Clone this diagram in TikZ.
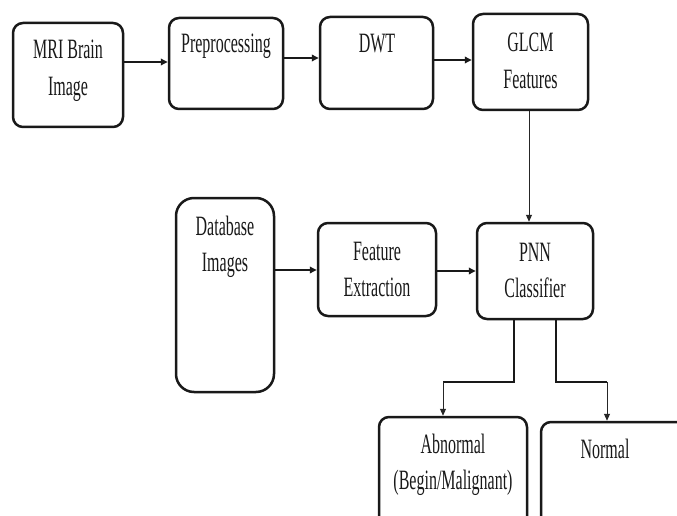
\documentclass[tikz,border=0pt]{standalone}
\usepackage{fontspec}
\setmainfont{Liberation Serif}
\usetikzlibrary{arrows.meta}
\newcommand{\tall}[1]{\scalebox{1}[1.75]{#1}}
\newcommand{\twoline}[2]{\tall{\begin{tabular}[t]{@{}c@{}}#1\\[0.5pt]#2\end{tabular}}}
\tikzset{
  box/.style={draw=black!90, line width=2.5pt, rounded corners=10pt, inner sep=0pt},
  txt/.style={inner sep=0pt, anchor=base, font=\fontsize{16}{20.5}\selectfont, text=black!90},
  arr/.style={draw=black!90, line width=2.2pt, -{Triangle[length=7pt,width=6.5pt]}},
  thinarr/.style={draw=black!85, line width=1pt, -{Triangle[length=7pt,width=6pt]}},
  seg/.style={draw=black!90, line width=2pt}
}
\begin{document}
\begin{tikzpicture}[x=1pt,y=-1pt]
\path[use as bounding box, clip] (0,0) rectangle (677,516);
\fill[white] (0,0) rectangle (677,516);
% boxes
\node[box, minimum width=110pt, minimum height=104pt] (mri) at (68,75) {};
\node[box, minimum width=114pt, minimum height=91pt] (pre) at (226,63.5) {};
\node[box, minimum width=113pt, minimum height=92pt] (dwt) at (376.5,63) {};
\node[box, minimum width=115pt, minimum height=96pt] (glcm) at (530.5,62) {};
\node[box, rounded corners=18pt, minimum width=98pt, minimum height=194pt] (db) at (225,295) {};
\node[box, minimum width=118pt, minimum height=93pt] (fe) at (377,269.5) {};
\node[box, minimum width=116pt, minimum height=96pt] (pnn) at (535,271) {};
\node[box, minimum width=148pt, minimum height=130pt] (abn) at (453,482) {};
\node[box, minimum width=170pt, minimum height=130pt] (nor) at (626,487) {};
% texts
\node[txt] (tmri) at (68,59) {\twoline{MRI Brain}{Image}};
\node[txt] (tpre) at (226,53) {\tall{Preprocessing}};
\node[txt] (tdwt) at (377,53) {\tall{DWT}};
\node[txt] (tglcm) at (530.5,52) {\twoline{GLCM}{Features}};
\node[txt] (tdb) at (225,235) {\twoline{Database}{Images}};
\node[txt] (tfe) at (377,260) {\twoline{Feature}{Extraction}};
\node[txt] (tpnn) at (535,261) {\twoline{PNN}{Classifier}};
\node[txt] (tabn) at (453,453) {\twoline{Abnormal}{(Begin/Malignant)}};
\node[txt] (tnor) at (605,458) {\tall{Normal}};
% connectors
\draw[arr] (mri.east |- 0,62) -- (pre.west |- 0,62);
\draw[arr] (pre.east |- 0,58) -- (dwt.west |- 0,58);
\draw[arr] (dwt.east |- 0,60) -- (glcm.west |- 0,60);
\draw[thinarr] (glcm.south -| 529,0) -- (pnn.north -| 529,0);
\draw[arr] (db.east |- 0,270) -- (fe.west |- 0,270);
\draw[arr] (fe.east |- 0,271) -- (pnn.west |- 0,271);
\coordinate (la) at (443,382);
\coordinate (ra) at (607,382);
\draw[seg] (pnn.south -| 514,0) |- (la);
\draw[seg] (pnn.south -| 556,0) |- (ra);
\draw[thinarr] (la) -- (abn.north -| la);
\draw[thinarr] (ra) -- (nor.north -| ra);
\end{tikzpicture}
\end{document}
